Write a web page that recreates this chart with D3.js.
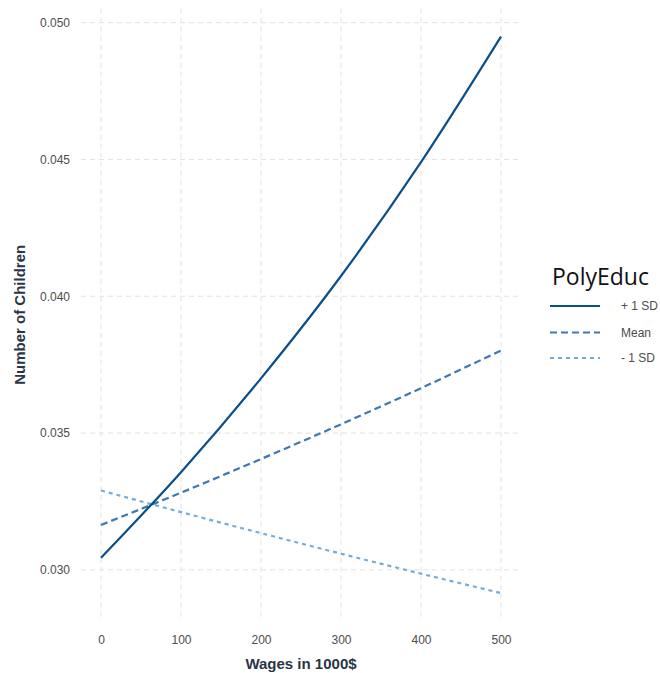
<!DOCTYPE html>
<html>
<head>
<meta charset="utf-8">
<script src="https://cdn.jsdelivr.net/npm/d3@7"></script>
<style>
  body { margin: 0; background: #fff; }
  .tick text { font-family: "Liberation Sans", Arial, sans-serif; font-size: 12px; fill: #4d4d4d; }
  .axis-title { font-family: "Liberation Sans", Arial, sans-serif; font-size: 15px; font-weight: bold; fill: #2a3545; }
  .legend-title { font-family: "Open Sans", "Noto Sans", sans-serif; font-size: 23px; fill: #111; }
  .legend-label { font-family: "Liberation Sans", Arial, sans-serif; font-size: 12px; fill: #4d4d4d; }
</style>
</head>
<body>
<div id="chart"></div>
<script>
// wages (1000$) and predicted number of children per PolyEduc level
let wages = [0, 100, 200, 300, 400, 500];
let plus1sd = [0.03044, 0.03357, 0.03700, 0.04074, 0.04490, 0.04949];
let meanVals = [0.03164, 0.03282, 0.03405, 0.03532, 0.03664, 0.03802];
let minus1sd = [0.03290, 0.03211, 0.03134, 0.03059, 0.02986, 0.02915];
let seriesNames = ["+ 1 SD", "Mean", "- 1 SD"];
let xTicks = [0, 100, 200, 300, 400, 500];
let yTicks = [0.030, 0.035, 0.040, 0.045, 0.050];

let total_width = 660, total_height = 673;
let panel = {left: 81, right: 521, top: 8.7, bottom: 621};

let colors = ["#0b4f8a", "#3f78b0", "#74acd9"];
let dashes = [null, "7,4", "4,4"];

let series = [plus1sd, meanVals, minus1sd].map((vals, i) => ({
  name: seriesNames[i],
  values: vals.map((v, j) => ({x: wages[j], y: v})),
  color: colors[i],
  dash: dashes[i]
}));

let x = d3.scaleLinear().domain([-25, 525]).range([panel.left, panel.right]);
let y = d3.scaleLinear().domain([0.02813, 0.05051]).range([panel.bottom, panel.top]);

let svg = d3.select("#chart").append("svg")
  .attr("width", total_width)
  .attr("height", total_height);

// grid
let grid = svg.append("g");
grid.selectAll(".vgrid").data(xTicks).enter().append("line")
  .attr("x1", d => x(d)).attr("x2", d => x(d))
  .attr("y1", panel.top).attr("y2", panel.bottom)
  .attr("stroke", "#e2e2e2").attr("stroke-width", 1).attr("stroke-dasharray", "5,4");
grid.selectAll(".hgrid").data(yTicks).enter().append("line")
  .attr("x1", panel.left).attr("x2", panel.right)
  .attr("y1", d => y(d)).attr("y2", d => y(d))
  .attr("stroke", "#e2e2e2").attr("stroke-width", 1).attr("stroke-dasharray", "5,4");

// axes (text only, no domain/ticks like theme_minimal)
let xAxis = svg.append("g")
  .attr("transform", "translate(0," + (panel.bottom + 6) + ")")
  .call(d3.axisBottom(x).tickValues(xTicks).tickSize(0).tickPadding(8).tickFormat(d3.format("d")));
xAxis.select(".domain").remove();

let yAxis = svg.append("g")
  .attr("transform", "translate(" + (panel.left - 10) + ",0)")
  .call(d3.axisLeft(y).tickValues(yTicks).tickSize(0).tickPadding(1).tickFormat(d3.format(".3f")));
yAxis.select(".domain").remove();

// lines
let line = d3.line().x(d => x(d.x)).y(d => y(d.y)).curve(d3.curveMonotoneX);
svg.append("g").selectAll("path").data(series.slice().reverse()).enter().append("path")
  .attr("d", d => line(d.values))
  .attr("fill", "none")
  .attr("stroke", d => d.color)
  .attr("stroke-width", 2.2)
  .attr("stroke-dasharray", d => d.dash);

// axis titles
svg.append("text")
  .attr("class", "axis-title")
  .attr("x", (panel.left + panel.right) / 2)
  .attr("y", 669)
  .attr("text-anchor", "middle")
  .text("Wages in 1000$");

svg.append("text")
  .attr("class", "axis-title")
  .attr("transform", "translate(25," + ((panel.top + panel.bottom) / 2) + ") rotate(-90)")
  .attr("text-anchor", "middle")
  .text("Number of Children");

// legend
let legend = svg.append("g");
legend.append("text")
  .attr("class", "legend-title")
  .attr("x", 552)
  .attr("y", 285)
  .text("PolyEduc");
let keyY = [306, 332.5, 358];
let keys = legend.selectAll(".key").data(series).enter().append("g");
keys.append("line")
  .attr("x1", 550).attr("x2", 600)
  .attr("y1", (d, i) => keyY[i]).attr("y2", (d, i) => keyY[i])
  .attr("stroke", d => d.color)
  .attr("stroke-width", 2)
  .attr("stroke-dasharray", d => d.dash);
keys.append("text")
  .attr("class", "legend-label")
  .attr("x", 621)
  .attr("y", (d, i) => keyY[i] + 4)
  .text(d => d.name);
</script>
</body>
</html>
